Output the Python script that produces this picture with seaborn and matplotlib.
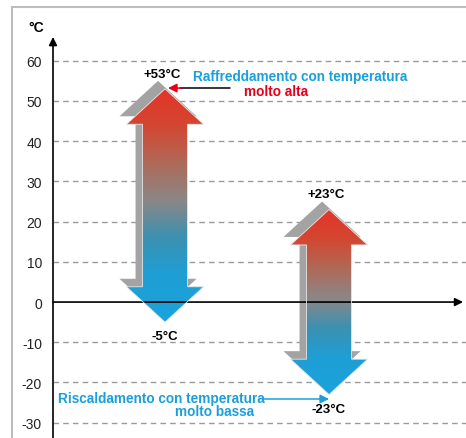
import numpy as np
import matplotlib
matplotlib.use("Agg")
import matplotlib.pyplot as plt
import matplotlib.transforms as mtransforms
from matplotlib.patches import Polygon
from matplotlib.lines import Line2D
from matplotlib.colors import LinearSegmentedColormap
import seaborn as sns

# dati
positions = [1, 2]
highs = [53, 23]
lows = [-5, -23]
high_labels = ["+53°C", "+23°C"]
low_labels = ["-5°C", "-23°C"]
yticks = [-30, -20, -10, 0, 10, 20, 30, 40, 50, 60]
blue_text = ["Raffreddamento con temperatura", "Riscaldamento con temperatura"]
note_text = ["molto alta", "molto bassa"]

sns.set_theme(style="white")
plt.rcParams["font.family"] = ["Liberation Sans", "DejaVu Sans"]

BLUE = "#1a9fdb"
RED = "#e3001b"

grad = LinearSegmentedColormap.from_list(
    "temp", [(0.0, "#1aa3dc"), (0.2, "#1e9fd5"), (0.36, "#3b91b2"),
             (0.52, "#8b8786"), (0.68, "#ae6a58"), (0.85, "#d5452f"),
             (1.0, "#e2352a")])

fig = plt.figure(figsize=(4.66, 4.39), dpi=100)
ax = fig.add_axes([53 / 466, 0, 1 - 53 / 466, (439 - 38) / 439])

# griglia tratteggiata
for v in yticks:
    if v != 0:
        ax.axhline(v, color="#9a9a9a", lw=1, dashes=(4, 3), zorder=1)

head_w = 0.235
shaft_w = 0.137
head_l = 8.8
shade = mtransforms.offset_copy(ax.transData, fig=fig, x=-7, y=8, units="dots")

for xc, top, bot in zip(positions, highs, lows):
    pts = [(xc, top), (xc + head_w, top - head_l), (xc + shaft_w, top - head_l),
           (xc + shaft_w, bot + head_l), (xc + head_w, bot + head_l), (xc, bot),
           (xc - head_w, bot + head_l), (xc - shaft_w, bot + head_l),
           (xc - shaft_w, top - head_l), (xc - head_w, top - head_l)]
    # lato grigio (effetto 3D)
    ax.add_patch(Polygon(pts, closed=True, facecolor="#a3a3a3", edgecolor="none",
                         transform=shade, zorder=2))
    body = Polygon(pts, closed=True, facecolor="none", edgecolor="#e6e6e6",
                   lw=0.6, zorder=4)
    ax.add_patch(body)
    g = np.linspace(1, 0, 256)[:, None]
    im = ax.imshow(g, cmap=grad, vmin=0, vmax=1, aspect="auto", origin="upper",
                   extent=(xc - head_w, xc + head_w, bot, top), zorder=3)
    im.set_clip_path(body)

for xc, top, bot, hl, ll in zip(positions, highs, lows, high_labels, low_labels):
    ax.text(xc - 0.02, top + 3.8, hl, ha="center", va="center",
            fontsize=9.5, fontweight="bold", color="black")
    ax.text(xc, bot - 3.5, ll, ha="center", va="center",
            fontsize=9.5, fontweight="bold", color="black")

# annotazioni
ax.text(1.17, 56.1, blue_text[0], ha="left", va="center", fontsize=9.8,
        fontweight="bold", color=BLUE)
ax.text(1.68, 52.5, note_text[0], ha="center", va="center", fontsize=9.8,
        fontweight="bold", color=RED)
ax.plot([1.09, 1.396], [53.2, 53.2], color="black", lw=1.1, zorder=5)
ax.annotate("", xy=(1.018, 53.2), xytext=(1.10, 53.2),
            arrowprops=dict(arrowstyle="-|>", color=RED, lw=1.1,
                            mutation_scale=13, shrinkA=0, shrinkB=0), zorder=5)

ax.text(1.61, -23.9, blue_text[1], ha="right", va="center", fontsize=9.8,
        fontweight="bold", color=BLUE)
ax.text(1.545, -27.1, note_text[1], ha="right", va="center", fontsize=9.8,
        fontweight="bold", color=BLUE)
ax.annotate("", xy=(2.0, -24.1), xytext=(1.598, -24.1),
            arrowprops=dict(arrowstyle="-|>", color=BLUE, lw=1.1,
                            mutation_scale=13, shrinkA=0, shrinkB=0), zorder=5)

# assi con frecce
ax.annotate("", xy=(0, 1), xytext=(0, 0), xycoords="axes fraction",
            arrowprops=dict(arrowstyle="-|>", color="black", lw=1.2,
                            mutation_scale=12, shrinkA=0, shrinkB=0))
ax.annotate("", xy=(0.993, 0), xytext=(0, 0), xycoords=("axes fraction", "data"),
            arrowprops=dict(arrowstyle="-|>", color="black", lw=1.2,
                            mutation_scale=12, shrinkA=0, shrinkB=0))

ax.set_xlim(0.317, 2.835)
ax.set_ylim(-33.8, 65.9)
ax.set_yticks(yticks)
ax.set_yticklabels([str(v) for v in yticks], fontsize=10, color="#222222")
ax.tick_params(axis="y", length=0, pad=8)
ax.set_xticks([])
sns.despine(ax=ax, left=True, bottom=True, top=True, right=True)

fig.text(36 / 466, 1 - 28 / 439, "°C", ha="center", va="center",
         fontsize=10, fontweight="bold", color="black")

# cornice grigia
fig.add_artist(Line2D([12 / 466, 12 / 466], [0, 1 - 8 / 439], transform=fig.transFigure,
                      color="#bdbdbd", lw=1.5))
fig.add_artist(Line2D([12 / 466, 1], [1 - 8 / 439, 1 - 8 / 439], transform=fig.transFigure,
                      color="#bdbdbd", lw=1.5))

fig.savefig("out.png", dpi=100)
